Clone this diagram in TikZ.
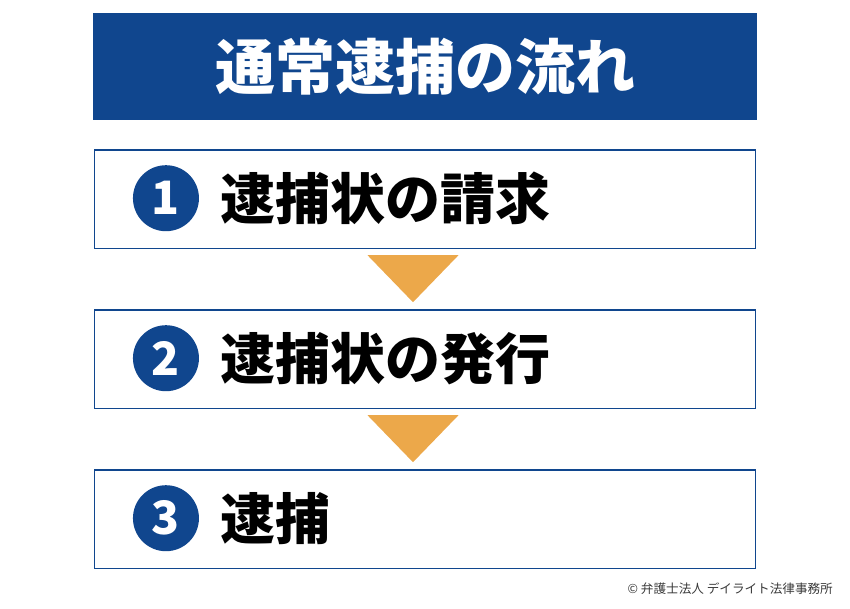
\documentclass[tikz,border=0pt]{standalone}
\usepackage{fontspec}
\newfontfamily\jpfont{Noto Sans CJK JP}
\usetikzlibrary{positioning,calc}
\definecolor{navy}{HTML}{10468E}
\definecolor{arroworange}{HTML}{ECA84A}
\definecolor{notegray}{HTML}{3A3A3A}
\tikzset{
  titlebox/.style={fill=navy,text=white,minimum width=664pt,minimum height=107pt,inner sep=0pt,
    font=\jpfont\bfseries\fontsize{60}{60}\selectfont},
  stepbox/.style={draw=navy,line width=1.5pt,fill=white,minimum width=661pt,minimum height=98.5pt},
  numdot/.style={circle,fill=navy,text=white,minimum size=66pt,inner sep=0pt,
    font=\jpfont\bfseries\fontsize{46}{46}\selectfont},
  steptext/.style={inner sep=0pt,anchor=west,font=\jpfont\bfseries\fontsize{55}{55}\selectfont},
  arrowfill/.style={fill=arroworange}
}

\begin{document}
\begin{tikzpicture}[x=1pt,y=1pt]
    \useasboundingbox (0,0) rectangle (850,-608);

    % Title and the three steps
    \node [titlebox] (title) at (425,-66.5) {通常逮捕の流れ};
    \node [stepbox, below=29pt of title] (b1) {};
    \node [stepbox, below=60pt of b1] (b2) {};
    \node [stepbox, below=60pt of b2] (b3) {};

    % Numbers and step labels
    \foreach \s/\t in {1/逮捕状の請求, 2/逮捕状の発行, 3/逮捕} {
        \node [numdot, right=39pt of b\s.west, yshift=1pt] (n\s) {\s};
        \node [steptext, right=21pt of n\s.east] (t\s) {\t};
    }

    % Arrows between the steps
    \foreach \a/\b in {b1/b2, b2/b3} {
        \fill [arrowfill] ($(\a.south)+(-57.5,-6)$) -- ($(\a.south)+(33.5,-6)$)
            -- ($(\b.north)+(-12,7)$) -- cycle;
    }

    % Credit line
    \node [inner sep=0pt, anchor=east, text=notegray, font=\jpfont\fontsize{12.6}{12.6}\selectfont]
        (credit) at (833,-589) {© 弁護士法人 デイライト法律事務所};
\end{tikzpicture}
\end{document}
